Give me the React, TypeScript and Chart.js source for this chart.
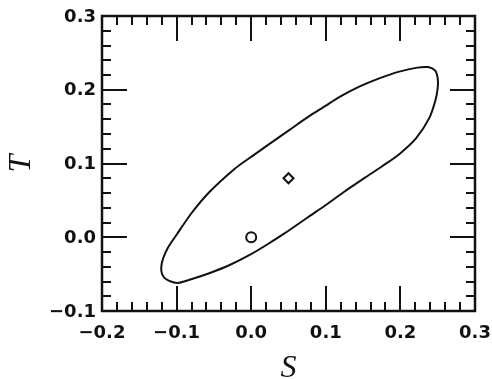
import React, { useEffect, useRef } from "react";
import { Chart, registerables } from "chart.js";

Chart.register(...registerables);

// Contour (closed curve) in the S-T plane, traced round the loop
const contourS = [
  0.0509, 0.0241, -0.0027, -0.0295, -0.0563, -0.0804, -0.0965, -0.1046, -0.1139, -0.1193,
  -0.1206, -0.118, -0.1113, -0.1005, -0.0791, -0.0563, -0.0228, -0.0027, 0.0241, 0.0509,
  0.0777, 0.0979, 0.118, 0.1448, 0.1716, 0.1984, 0.2225, 0.2373, 0.2466, 0.25,
  0.25, 0.2466, 0.2386, 0.2212, 0.1984, 0.1756, 0.1515, 0.1247, 0.1005, 0.0751,
  0.0509,
];
const contourT = [
  0.0095, -0.0081, -0.0244, -0.038, -0.0488, -0.057, -0.0617, -0.0611, -0.057, -0.0502,
  -0.0407, -0.0285, -0.0136, 0.0027, 0.0339, 0.0611, 0.0923, 0.1072, 0.1262, 0.1452,
  0.1642, 0.1770, 0.1900, 0.2042, 0.2155, 0.2246, 0.23, 0.2307, 0.2259, 0.2157,
  0.2022, 0.1845, 0.1615, 0.1343, 0.1126, 0.0963, 0.0801, 0.0617, 0.0441, 0.0265,
  0.0095,
];

// Markers
const circlePoint = { S: 0.0, T: 0.0 };
const diamondPoint = { S: 0.05, T: 0.08 };

// Axes
const xTicks = [-0.2, -0.1, 0.0, 0.1, 0.2, 0.3];
const xTickLabels = ["\u22120.2", "\u22120.1", "0.0", "0.1", "0.2", "0.3"];
const yTicks = [-0.1, 0.0, 0.1, 0.2, 0.3];
const yTickLabels = ["\u22120.1", "0.0", "0.1", "0.2", "0.3"];
const minorStep = 0.02;

const frameTicksPlugin = {
  id: "frameTicks",
  afterDatasetsDraw(chart: any) {
    const { ctx, chartArea, scales } = chart;
    const { left, right, top, bottom } = chartArea;
    const xs = scales.x;
    const ys = scales.y;
    ctx.save();
    ctx.strokeStyle = "#111";
    ctx.lineWidth = 2;
    ctx.lineCap = "butt";
    const majorLen = 25;
    const minorLen = 9;
    const isMajor = (v: number) => Math.abs(v * 10 - Math.round(v * 10)) < 1e-6;
    const nx = Math.round((xs.max - xs.min) / minorStep);
    for (let i = 1; i < nx; i++) {
      const v = xs.min + i * minorStep;
      const p = Math.round(xs.getPixelForValue(v));
      const len = isMajor(v) ? majorLen : minorLen;
      ctx.beginPath();
      ctx.moveTo(p, bottom);
      ctx.lineTo(p, bottom - len);
      ctx.moveTo(p, top);
      ctx.lineTo(p, top + len);
      ctx.stroke();
    }
    const ny = Math.round((ys.max - ys.min) / minorStep);
    for (let i = 1; i < ny; i++) {
      const v = ys.min + i * minorStep;
      const p = Math.round(ys.getPixelForValue(v));
      const len = isMajor(v) ? majorLen : minorLen;
      ctx.beginPath();
      ctx.moveTo(left, p);
      ctx.lineTo(left + len, p);
      ctx.moveTo(right, p);
      ctx.lineTo(right - len, p);
      ctx.stroke();
    }
    ctx.lineWidth = 2.5;
    ctx.strokeRect(left, top, right - left, bottom - top);
    ctx.restore();
  },
};

export default function App() {
  const ref = useRef<HTMLCanvasElement | null>(null);
  useEffect(() => {
    if (!ref.current) return;
    const contour = contourS.map((s, i) => ({ x: s, y: contourT[i] }));
    const chart = new Chart(ref.current, {
      type: "scatter",
      data: {
        datasets: [
          {
            data: contour,
            showLine: true,
            borderColor: "#111",
            borderWidth: 2,
            pointRadius: 0,
            tension: 0.3,
            fill: false,
          },
          {
            data: [{ x: circlePoint.S, y: circlePoint.T }],
            pointStyle: "circle",
            pointRadius: 5,
            borderWidth: 2,
            borderColor: "#111",
            backgroundColor: "rgba(255,255,255,0)",
          },
          {
            data: [{ x: diamondPoint.S, y: diamondPoint.T }],
            pointStyle: "rectRot",
            pointRadius: 5,
            borderWidth: 2,
            borderColor: "#111",
            backgroundColor: "rgba(255,255,255,0)",
          },
        ],
      },
      options: {
        responsive: false,
        animation: false,
        devicePixelRatio: 1,
        layout: { padding: { top: 16, right: 17, left: 0, bottom: 0 } },
        plugins: { legend: { display: false }, tooltip: { enabled: false } },
        scales: {
          x: {
            type: "linear",
            min: -0.2,
            max: 0.3,
            grid: { display: false, drawTicks: false },
            border: { display: false },
            afterBuildTicks: (s: any) => {
              s.ticks = xTicks.map((v) => ({ value: v }));
            },
            afterFit: (s: any) => {
              s.height = 68;
              s.paddingLeft = 0;
              s.paddingRight = 0;
            },
            ticks: {
              padding: 12,
              color: "#111",
              maxRotation: 0,
              autoSkip: false,
              font: { family: "DejaVu Sans", weight: "bold", size: 18 },
              callback: (_v: any, i: number) => xTickLabels[i],
            },
            title: {
              display: true,
              text: "S",
              color: "#111",
              font: { family: "Liberation Serif", style: "italic", size: 32, lineHeight: 1 },
              padding: { top: 0, bottom: -6 },
            },
          },
          y: {
            type: "linear",
            min: -0.1,
            max: 0.3,
            grid: { display: false, drawTicks: false },
            border: { display: false },
            afterBuildTicks: (s: any) => {
              s.ticks = yTicks.map((v) => ({ value: v }));
            },
            afterFit: (s: any) => {
              s.width = 102;
              s.paddingTop = 0;
              s.paddingBottom = 0;
            },
            ticks: {
              padding: 6,
              labelOffset: 1,
              color: "#111",
              autoSkip: false,
              font: { family: "DejaVu Sans", weight: "bold", size: 18 },
              callback: (_v: any, i: number) => yTickLabels[i],
            },
            title: {
              display: true,
              text: "T",
              color: "#111",
              font: { family: "Liberation Serif", style: "italic", size: 32, lineHeight: 1 },
              padding: { top: 6, bottom: 0 },
            },
          },
        },
      },
      plugins: [frameTicksPlugin],
    });
    return () => chart.destroy();
  }, []);
  return (
    <div style={{ position: "absolute", left: 0, top: 0, width: 492, height: 379, background: "#fff" }}>
      <canvas ref={ref} width={492} height={379} />
    </div>
  );
}
